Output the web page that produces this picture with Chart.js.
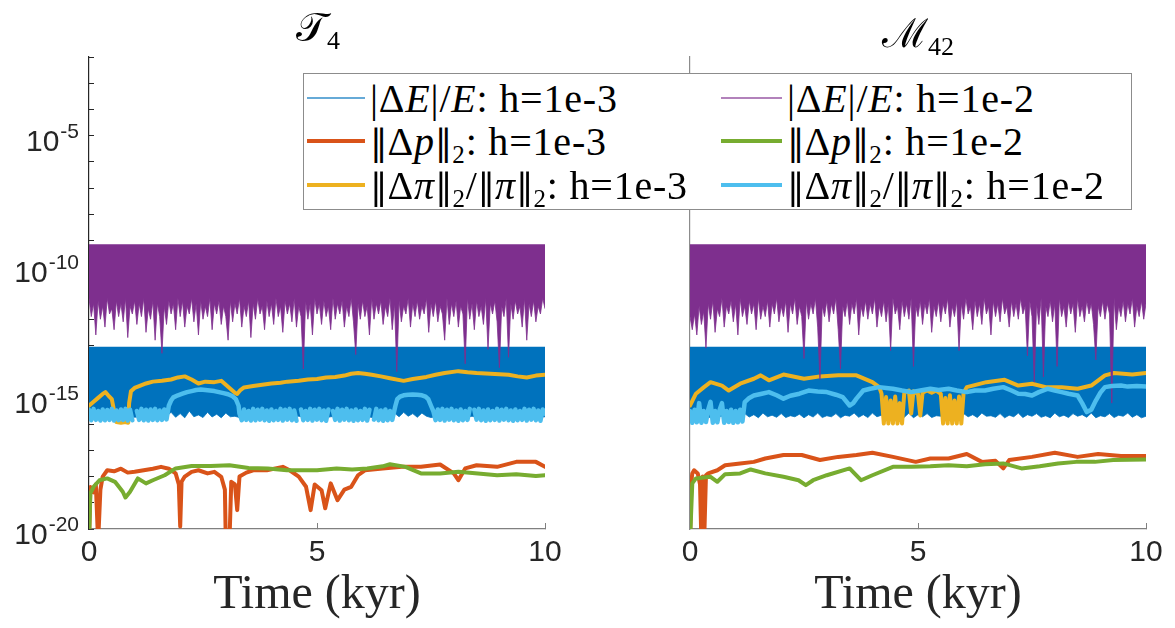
<!DOCTYPE html>
<html>
<head>
<meta charset="utf-8">
<script src="https://cdn.jsdelivr.net/npm/chart.js@4.4.0/dist/chart.umd.min.js"></script>
<style>
  body { margin: 0; width: 1175px; height: 628px; background: #fff; position: relative; overflow: hidden; font-family: "Liberation Serif", "DejaVu Serif", serif; color: #000; }
  canvas { position: absolute; top: 0; }
  #cLeft { left: 0; }
  #cRight { left: 600px; }
  .title { position: absolute; top: 4px; width: 456px; text-align: center; font-size: 40px; font-family: "DejaVu Serif", "Liberation Serif", serif; }
  .title sub { font-size: 26px; font-family: "Liberation Serif", serif; vertical-align: -8px; }
  #legend { position: absolute; left: 303px; top: 73px; width: 829px; height: 137px; border: 1px solid #8c8c8c; background: #fff; box-sizing: border-box; }
  .item { position: absolute; height: 40px; display: flex; align-items: center; white-space: nowrap; font-size: 40px; letter-spacing: 0.8px; }
  .item .sample { display: inline-block; margin-right: 5px; }
  .item sub { font-size: 25px; vertical-align: -8px; line-height: 0; }
  .dbl { font-family: "DejaVu Serif", serif; font-size: 35px; letter-spacing: 0; }
</style>
</head>
<body>
<canvas id="cLeft" width="600" height="628"></canvas>
<canvas id="cRight" width="575" height="628"></canvas>
<div class="title" style="left:90px">𝒯<sub>4</sub></div>
<div class="title" style="left:690px">ℳ<sub>42</sub></div>
<div id="legend"></div>
<script>
// axis values
const xTicks = [0, 5, 10];
const yLabelExps = [-20, -15, -10, -5];
const yMinExp = -20, yMaxExp = -2;
const xLabel = 'Time (kyr)';

// series colours (MATLAB default order)
const cBlue = '#0072BD', cOrange = '#D95319', cYellow = '#EDB120',
      cPurple = '#7E2F8E', cGreen = '#77AC30', cCyan = '#4DBEEE';

// legend labels (html, real text)
const legendLabels = [
  '|Δ<i>E</i>|/<i>E</i>: h=1e-3', '|Δ<i>E</i>|/<i>E</i>: h=1e-2',
  '<span class="dbl">‖</span>Δ<i>p</i><span class="dbl">‖</span><sub>2</sub>: h=1e-3', '<span class="dbl">‖</span>Δ<i>p</i><span class="dbl">‖</span><sub>2</sub>: h=1e-2',
  '<span class="dbl">‖</span>Δ<i>π</i><span class="dbl">‖</span><sub>2</sub>/<span class="dbl">‖</span><i>π</i><span class="dbl">‖</span><sub>2</sub>: h=1e-3',
  '<span class="dbl">‖</span>Δ<i>π</i><span class="dbl">‖</span><sub>2</sub>/<span class="dbl">‖</span><i>π</i><span class="dbl">‖</span><sub>2</sub>: h=1e-2'
];

// ---- T4 panel (log10 values) ----
// |dE|/E bands: flat top, lower edge every 0.05 kyr (h=1e-2) / 0.1 kyr (h=1e-3)
const eTopT4_h2 = -9.14;
const eLowT4_h2 = [
  -11.2,-11.9,-11.4,-12.6,-11.3,-12.0,-11.5,-12.3,-11.2,-11.8,-11.6,-12.4,-11.3,-11.9,-11.4,-12.1,-11.2,-12.7,-11.5,-11.8,
  -11.3,-12.2,-11.4,-11.9,-11.2,-12.5,-11.6,-12.0,-11.3,-12.8,-11.4,-11.9,-13.3,-11.5,-12.2,-11.3,-11.8,-11.4,-12.4,-11.2,
  -11.9,-11.3,-12.3,-11.5,-11.8,-11.2,-12.1,-11.4,-12.6,-11.3,-12.0,-11.5,-11.9,-11.2,-12.4,-11.4,-11.8,-11.3,-12.2,-11.5,
  -11.9,-12.8,-11.3,-12.1,-11.4,-11.8,-11.2,-12.3,-11.5,-11.9,-11.3,-12.7,-11.4,-12.0,-11.2,-11.8,-11.5,-12.4,-11.3,-11.9,
  -11.4,-12.2,-11.2,-11.9,-11.5,-12.5,-11.3,-11.8,-11.4,-12.1,-11.2,-12.3,-11.5,-11.9,-13.9,-11.3,-12.0,-11.4,-12.6,-11.2,
  -11.8,-11.4,-12.2,-11.3,-11.9,-11.5,-12.4,-11.2,-12.0,-11.4,-11.8,-11.3,-12.3,-11.5,-11.9,-11.2,-12.1,-13.35,-11.4,-12.0,
  -11.3,-11.9,-11.5,-12.6,-11.2,-12.0,-11.4,-11.8,-11.3,-12.2,-11.5,-11.9,-11.2,-12.4,-11.4,-14.0,-11.3,-12.1,-11.5,-11.8,
  -11.2,-12.3,-11.4,-11.9,-11.3,-12.0,-11.5,-11.8,-11.2,-12.5,-11.4,-11.9,-11.3,-12.1,-11.5,-11.8,-12.8,-11.2,-12.2,-11.4,
  -11.9,-11.3,-12.3,-11.5,-11.8,-13.7,-11.2,-12.0,-11.4,-12.4,-11.3,-11.9,-11.5,-12.2,-11.2,-13.15,-11.4,-11.8,-11.3,-12.1,
  -13.85,-11.5,-11.9,-11.2,-13.45,-11.4,-12.0,-11.3,-11.8,-11.5,-12.3,-11.2,-12.8,-11.4,-11.9,-11.3,-12.1,-11.5,-11.8,-11.2,
  -11.6
];
const eTopT4_h3 = -13.05;
const eLowT4_h3 = [
  -15.72,-15.75,-15.7,-15.74,-15.72,-15.76,-15.7,-15.73,-15.75,-15.7,
  -15.74,-15.72,-15.76,-15.7,-15.73,-15.75,-15.72,-15.7,-15.55,-15.74,
  -15.6,-15.76,-15.5,-15.72,-15.65,-15.75,-15.55,-15.73,-15.62,-15.76,
  -15.58,-15.72,-15.7,-15.75,-15.72,-15.7,-15.74,-15.76,-15.72,-15.7,
  -15.75,-15.72,-15.7,-15.74,-15.76,-15.72,-15.7,-15.73,-15.75,-15.72,
  -15.7,-15.74,-15.76,-15.72,-15.7,-15.75,-15.73,-15.7,-15.74,-15.76,
  -15.72,-15.7,-15.75,-15.73,-15.7,-15.74,-15.76,-15.58,-15.72,-15.55,
  -15.7,-15.6,-15.74,-15.58,-15.7,-15.75,-15.72,-15.7,-15.74,-15.76,
  -15.72,-15.7,-15.75,-15.73,-15.7,-15.74,-15.76,-15.72,-15.7,-15.75,
  -15.73,-15.7,-15.74,-15.76,-15.72,-15.7,-15.75,-15.73,-15.7,-15.74,
  -15.72
];
// ||dp||2 (t, log10)
const pT4_h3 = [[0,-20.5],[0.03,-18.4],[0.1,-18.6],[0.15,-18.3],[0.2,-20.5],[0.25,-18.5],[0.3,-18.0],[0.4,-17.76],[0.55,-17.8],[0.7,-17.7],[0.85,-17.85],[1.0,-17.82],[1.2,-17.76],[1.4,-17.7],[1.58,-17.63],[1.75,-17.7],[1.9,-17.88],[1.97,-18.3],[2.0,-19.9],[2.03,-18.2],[2.1,-18.0],[2.25,-17.82],[2.4,-17.76],[2.6,-17.88],[2.75,-17.82],[2.9,-18.01],[2.98,-18.5],[3.0,-20.5],[3.08,-20.5],[3.12,-18.2],[3.2,-18.3],[3.25,-19.28],[3.3,-18.0],[3.45,-17.85],[3.6,-17.76],[3.9,-17.76],[4.25,-17.63],[4.4,-17.76],[4.6,-18.0],[4.76,-18.39],[4.86,-19.28],[4.95,-18.3],[5.1,-18.52],[5.18,-19.21],[5.3,-18.26],[5.45,-18.9],[5.6,-18.5],[5.75,-18.39],[5.9,-17.95],[6.05,-17.76],[6.44,-17.69],[6.86,-17.63],[7.28,-17.63],[7.7,-17.54],[8.0,-17.88],[8.1,-18.14],[8.25,-17.69],[8.5,-17.57],[8.95,-17.63],[9.37,-17.44],[9.8,-17.44],[10,-17.63]];
const pT4_h2 = [[0,-20.5],[0.03,-18.64],[0.1,-18.39],[0.23,-18.14],[0.4,-18.07],[0.57,-18.2],[0.74,-18.58],[0.8,-18.8],[0.9,-18.58],[1.07,-18.07],[1.25,-18.26],[1.4,-18.14],[1.66,-17.95],[1.9,-17.69],[2.25,-17.6],[2.67,-17.6],[3.08,-17.57],[3.5,-17.67],[3.92,-17.69],[4.34,-17.76],[4.76,-17.76],[5.0,-17.76],[5.43,-17.69],[5.77,-17.73],[6.1,-17.69],[6.44,-17.61],[6.6,-17.53],[6.94,-17.63],[7.28,-17.88],[7.7,-17.88],[8.1,-17.82],[8.53,-17.88],[8.95,-17.95],[9.37,-17.91],[9.8,-17.98],[10,-17.95]];
// ||dpi||2/||pi||2 (t, log10)
const piT4_h3 = [[0,-15.3],[0.1,-15.15],[0.2,-15.0],[0.3,-14.85],[0.36,-14.78],[0.42,-14.9],[0.5,-15.05],[0.55,-15.5],[0.6,-15.92],[0.7,-15.95],[0.8,-15.92],[0.86,-15.95],[0.88,-15.2],[0.92,-14.75],[1.0,-14.62],[1.1,-14.55],[1.25,-14.45],[1.4,-14.38],[1.6,-14.35],[1.8,-14.3],[1.95,-14.22],[2.1,-14.18],[2.25,-14.3],[2.4,-14.45],[2.55,-14.38],[2.75,-14.4],[2.9,-14.35],[3.0,-14.5],[3.1,-14.65],[3.2,-14.8],[3.25,-14.85],[3.32,-14.7],[3.4,-14.6],[3.6,-14.55],[3.8,-14.5],[4.0,-14.45],[4.2,-14.42],[4.35,-14.38],[4.6,-14.35],[4.8,-14.3],[5.0,-14.28],[5.2,-14.22],[5.4,-14.2],[5.6,-14.15],[5.75,-14.08],[5.9,-14.05],[6.05,-14.08],[6.2,-14.12],[6.4,-14.18],[6.6,-14.25],[6.9,-14.35],[7.1,-14.28],[7.4,-14.2],[7.6,-14.12],[7.8,-14.05],[8.1,-13.98],[8.3,-14.02],[8.5,-14.05],[8.8,-14.08],[9.0,-14.1],[9.2,-14.12],[9.4,-14.18],[9.6,-14.22],[9.8,-14.15],[10,-14.12]];
const piT4_h2 = [
  [0,-15.45],[0.05,-15.85],[0.1,-15.42],[0.15,-15.84],[0.2,-15.5],[0.25,-15.86],[0.3,-15.44],[0.35,-15.85],[0.4,-15.46],[0.45,-15.84],[0.5,-15.42],[0.55,-15.86],[0.6,-15.48],[0.65,-15.85],[0.7,-15.44],[0.75,-15.84],[0.8,-15.42],[0.85,-15.86],[0.9,-15.45],[0.95,-15.85],[1.0,null],[1.05,-15.5],[1.1,-15.84],[1.15,-15.42],[1.2,-15.85],[1.25,-15.45],[1.3,-15.86],[1.35,-15.44],[1.4,-15.84],[1.45,-15.42],[1.5,-15.85],[1.55,-15.48],[1.6,-15.84],[1.65,-15.44],[1.7,-15.82],
  [1.75,-15.3],[1.8,-15.1],[1.85,-14.98],[1.95,-14.9],[2.05,-14.84],[2.15,-14.78],[2.25,-14.74],[2.35,-14.7],[2.45,-14.68],[2.55,-14.7],[2.65,-14.72],[2.75,-14.74],[2.85,-14.78],[2.95,-14.82],[3.05,-14.86],[3.15,-14.94],[3.22,-15.05],[3.28,-15.3],
  [3.3,-15.6],[3.35,-15.85],[3.4,-15.44],[3.45,-15.84],[3.5,-15.5],[3.55,-15.86],[3.6,-15.42],[3.65,-15.85],[3.7,-15.45],[3.75,-15.83],[3.8,-15.42],[3.85,-15.85],[3.9,-15.48],[3.95,-15.87],[4.0,-15.44],[4.05,-15.85],[4.1,-15.5],[4.15,-15.84],[4.2,-15.42],[4.25,-15.86],[4.3,-15.45],[4.35,-15.83],[4.4,-15.42],[4.45,-15.85],[4.5,-15.48],[4.55,-15.87],[4.6,null],[4.65,-15.44],[4.7,-15.85],[4.75,-15.5],[4.8,-15.84],[4.85,-15.42],[4.9,-15.86],[4.95,-15.45],[5.0,-15.83],[5.05,-15.42],[5.1,-15.85],[5.15,-15.48],[5.2,-15.87],[5.25,-15.44],[5.3,null],[5.35,-15.5],[5.4,-15.84],[5.45,-15.42],[5.5,-15.86],[5.55,-15.45],[5.6,-15.83],[5.65,-15.42],[5.7,-15.85],[5.75,-15.48],[5.8,-15.87],[5.85,-15.44],[5.9,-15.85],[5.95,-15.5],[6.0,-15.84],[6.05,-15.42],[6.1,-15.86],[6.15,-15.45],[6.2,null],[6.25,-15.83],[6.3,-15.42],[6.35,-15.85],[6.4,-15.48],[6.45,-15.87],[6.5,-15.44],[6.55,-15.85],[6.6,-15.5],[6.65,-15.84],[6.7,-15.45],
  [6.72,-15.3],[6.76,-15.05],[6.82,-14.95],[6.9,-14.9],[7.0,-14.88],[7.1,-14.87],[7.2,-14.88],[7.3,-14.9],[7.38,-14.95],[7.44,-15.05],[7.5,-15.3],
  [7.55,-15.5],[7.6,-15.85],[7.65,-15.44],[7.7,-15.84],[7.75,-15.42],[7.8,-15.86],[7.85,-15.45],[7.9,-15.83],[7.95,-15.42],[8.0,-15.85],[8.05,-15.48],[8.1,-15.87],[8.15,-15.44],[8.2,-15.85],[8.25,-15.5],[8.3,-15.84],[8.35,-15.42],[8.4,null],[8.45,-15.45],[8.5,-15.83],[8.55,-15.42],[8.6,-15.85],[8.65,-15.48],[8.7,-15.87],[8.75,-15.44],[8.8,-15.85],[8.85,-15.5],[8.9,-15.84],[8.95,-15.42],[9.0,-15.86],[9.05,-15.45],[9.1,-15.83],[9.15,-15.42],[9.2,-15.85],[9.25,-15.48],[9.3,-15.87],[9.35,-15.44],[9.4,-15.85],[9.45,-15.5],[9.5,-15.84],[9.55,-15.42],[9.6,-15.86],[9.65,-15.45],[9.7,-15.83],[9.75,-15.42],[9.8,-15.85],[9.85,-15.48],[9.9,-15.87],[9.95,-15.44],[10,-15.6]
];

// ---- M42 panel (log10 values) ----
const eTopM42_h2 = -9.14;
const eLowM42_h2 = [
  -11.9,-12.4,-11.8,-12.6,-11.5,-12.2,-11.7,-13.1,-11.4,-12.0,-11.3,-12.5,-11.6,-11.9,-11.2,-12.3,-11.5,-11.8,-11.3,-12.1,
  -11.4,-12.6,-11.2,-11.9,-11.5,-12.2,-11.3,-11.8,-11.4,-12.4,-11.2,-12.0,-11.5,-11.9,-11.3,-12.3,-11.4,-11.8,-11.2,-12.1,
  -11.5,-11.9,-11.3,-12.5,-11.4,-11.8,-11.2,-12.2,-11.5,-11.9,-13.5,-11.3,-12.0,-11.4,-11.8,-11.2,-12.3,-14.3,-11.5,-11.9,
  -11.3,-12.1,-11.4,-11.8,-11.2,-12.4,-13.9,-11.5,-11.9,-11.3,-12.2,-11.4,-11.8,-11.2,-12.6,-11.5,-11.9,-11.3,-12.0,-11.4,
  -11.8,-11.2,-12.3,-11.5,-11.9,-11.3,-12.1,-11.4,-13.2,-11.2,-11.8,-11.5,-12.4,-11.3,-11.9,-11.4,-12.0,-11.2,-13.8,-11.5,
  -11.9,-11.3,-12.2,-11.4,-11.8,-11.2,-12.5,-11.5,-11.9,-11.3,-12.1,-11.4,-11.8,-11.2,-12.3,-11.5,-11.9,-11.3,-13.2,-11.4,
  -12.0,-11.2,-11.8,-11.5,-12.4,-11.3,-11.9,-11.4,-12.2,-11.2,-11.8,-11.5,-12.6,-11.3,-11.9,-11.4,-12.1,-11.2,-11.8,-11.5,
  -12.3,-11.3,-11.9,-11.4,-12.0,-11.2,-11.8,-11.5,-13.4,-11.3,-11.9,-14.4,-11.4,-12.2,-11.2,-14.2,-11.5,-11.9,-11.3,-12.1,
  -11.4,-13.8,-11.2,-11.9,-11.5,-12.3,-11.3,-11.8,-11.4,-12.5,-11.2,-11.9,-11.5,-12.1,-11.3,-11.8,-11.4,-12.2,-13.55,-11.5,
  -11.9,-11.3,-12.0,-11.4,-11.8,-15.2,-11.2,-12.4,-11.5,-11.9,-11.3,-12.1,-11.4,-11.8,-11.2,-12.3,-11.5,-11.9,-11.3,-12.0,
  -11.4
];
const eTopM42_h3 = -13.05;
const eLowM42_h3 = [
  -15.75,-15.72,-15.76,-15.7,-15.74,-15.75,-15.72,-15.7,-15.76,-15.73,
  -15.74,-15.7,-15.6,-15.73,-15.64,-15.76,-15.58,-15.72,-15.66,-15.74,
  -15.6,-15.75,-15.68,-15.72,-15.62,-15.76,-15.64,-15.73,-15.58,-15.75,
  -15.68,-15.72,-15.6,-15.76,-15.66,-15.7,-15.58,-15.74,-15.64,-15.75,
  -15.58,-15.72,-15.66,-15.75,-15.6,-15.7,-15.68,-15.74,-15.58,-15.76,
  -15.64,-15.72,-15.6,-15.75,-15.68,-15.7,-15.58,-15.74,-15.66,-15.76,
  -15.6,-15.72,-15.64,-15.75,-15.58,-15.7,-15.68,-15.74,-15.6,-15.76,
  -15.66,-15.72,-15.58,-15.75,-15.64,-15.7,-15.6,-15.74,-15.68,-15.76,
  -15.58,-15.72,-15.66,-15.75,-15.6,-15.7,-15.64,-15.74,-15.58,-15.76,
  -15.68,-15.72,-15.6,-15.75,-15.66,-15.7,-15.58,-15.74,-15.64,-15.76,
  -15.7
];
const pM42_h3 = [[0,-20.5],[0.03,-18.2],[0.05,-17.88],[0.09,-17.76],[0.17,-17.88],[0.22,-18.3],[0.25,-20.5],[0.28,-18.0],[0.31,-20.5],[0.35,-17.95],[0.4,-17.88],[0.6,-17.76],[0.77,-17.57],[1.1,-17.5],[1.4,-17.44],[1.65,-17.31],[2.05,-17.18],[2.45,-17.18],[2.85,-17.37],[3.25,-17.25],[3.65,-17.18],[4.0,-17.09],[4.45,-17.25],[4.95,-17.44],[5.27,-17.31],[5.67,-17.31],[6.07,-17.14],[6.4,-17.44],[6.7,-17.4],[6.87,-17.69],[7.0,-17.37],[7.5,-17.25],[8.0,-17.09],[8.5,-17.25],[8.95,-17.14],[9.45,-17.22],[10,-17.22]];
const pM42_h2 = [[0,-20.5],[0.05,-18.26],[0.13,-18.07],[0.3,-18.04],[0.45,-18.01],[0.6,-18.2],[0.77,-17.91],[1.1,-17.88],[1.33,-17.73],[1.65,-17.88],[2.05,-18.01],[2.38,-18.14],[2.54,-18.33],[2.7,-18.14],[3.0,-17.95],[3.5,-17.69],[3.75,-18.14],[4.0,-17.95],[4.45,-17.63],[4.86,-17.63],[5.27,-17.61],[5.67,-17.57],[6.07,-17.61],[6.47,-17.53],[6.87,-17.5],[7.27,-17.69],[7.67,-17.61],[8.07,-17.5],[8.47,-17.44],[8.88,-17.44],[9.28,-17.37],[10,-17.35]];
const piM42_h3 = [[0,-15.29],[0.13,-14.84],[0.3,-14.6],[0.45,-14.4],[0.7,-14.53],[0.85,-14.72],[1.1,-14.46],[1.4,-14.27],[1.55,-14.14],[1.73,-14.33],[2.05,-14.11],[2.5,-14.27],[2.85,-14.18],[3.25,-14.14],[3.65,-14.14],[4.0,-14.4],[4.15,-14.59],[4.2,-14.84],[4.25,-15.98],[4.3,-14.97],[4.35,-15.98],[4.4,-15.1],[4.45,-15.98],[4.5,-14.95],[4.55,-15.98],[4.6,-15.2],[4.65,-15.98],[4.7,-14.8],[4.8,-14.72],[4.85,-15.6],[4.9,-14.75],[5.0,-14.85],[5.05,-15.67],[5.1,-14.8],[5.2,-14.72],[5.3,-14.8],[5.4,-14.72],[5.5,-14.85],[5.55,-15.98],[5.6,-15.0],[5.65,-15.98],[5.7,-14.9],[5.75,-15.98],[5.8,-15.1],[5.85,-15.98],[5.9,-14.95],[5.95,-15.98],[6.0,-14.8],[6.07,-14.59],[6.5,-14.4],[6.9,-14.31],[7.2,-14.53],[7.5,-14.46],[7.8,-14.59],[8.15,-14.59],[8.5,-14.65],[8.8,-14.53],[9.1,-14.14],[9.3,-14.05],[9.7,-14.11],[10,-14.05]];
const piM42_h2 = [
  [0,-15.5],[0.05,-15.95],[0.1,-15.45],[0.15,-15.93],[0.2,-15.2],[0.25,-15.95],[0.3,-15.5],[0.35,-15.92],[0.4,-15.45],[0.45,-15.15],[0.5,-15.95],[0.55,-15.5],[0.6,-15.93],[0.65,-15.45],[0.7,-15.2],[0.75,-15.95],[0.8,-15.5],[0.85,-15.92],[0.9,-15.45],[0.95,-15.95],[1.0,-15.5],[1.05,-15.93],[1.1,-15.45],[1.15,-15.9],
  [1.2,-15.16],[1.3,-15.0],[1.4,-14.91],[1.55,-14.85],[1.73,-14.78],[1.9,-14.9],[2.05,-15.03],[2.2,-14.92],[2.4,-14.84],[2.6,-14.72],[2.8,-14.76],[3.0,-14.78],[3.2,-14.88],[3.35,-14.97],[3.5,-15.29],[3.58,-15.2],[3.65,-15.03],[3.8,-14.72],[3.95,-14.65],[4.15,-14.59],[4.3,-14.62],[4.45,-14.65],[4.65,-14.72],[4.85,-14.78],[5.05,-14.72],[5.27,-14.65],[5.45,-14.7],[5.67,-14.65],[5.85,-14.72],[6.07,-14.78],[6.25,-14.72],[6.47,-14.72],[6.65,-14.65],[6.87,-14.59],[7.05,-14.72],[7.2,-14.84],[7.35,-14.85],[7.5,-14.91],[7.65,-14.78],[7.85,-14.65],[8.0,-14.72],[8.15,-14.78],[8.3,-14.84],[8.5,-14.91],[8.6,-15.2],[8.7,-15.54],[8.8,-15.45],[8.9,-15.1],[9.0,-14.8],[9.1,-14.59],[9.25,-14.55],[9.45,-14.53],[9.6,-14.57],[9.8,-14.55],[10,-14.57]
];

function bandPoints(lows, step) {
  return lows.map((v, i) => ({ x: i * step, y: Math.pow(10, v) }));
}
function linePoints(pairs) {
  return pairs.map(([t, v]) => ({ x: t, y: v === null ? null : Math.pow(10, v) }));
}
function band(lows, step, top, color) {
  return { data: bandPoints(lows, step), borderColor: color, backgroundColor: color, borderWidth: 0.8,
           fill: { value: Math.pow(10, top) }, pointRadius: 0, tension: 0 };
}
function line(pairs, color, width) {
  return { data: linePoints(pairs), borderColor: color, borderWidth: width || 4, fill: false, pointRadius: 0,
           tension: 0, spanGaps: false, borderJoinStyle: 'round', borderCapStyle: 'round' };
}

// y labels 10^n drawn with a raised exponent
const expLabels = {
  id: 'expLabels',
  afterDraw(chart) {
    const opts = chart.options.plugins.expLabels;
    if (!opts || !opts.show) return;
    const s = chart.scales.y, ctx = chart.ctx;
    ctx.save();
    ctx.fillStyle = '#262626';
    ctx.textAlign = 'right';
    ctx.textBaseline = 'alphabetic';
    yLabelExps.forEach(e => {
      const y = s.getPixelForValue(Math.pow(10, e));
      const right = s.right - 10;
      ctx.font = '21px "Liberation Sans", Arial, sans-serif';
      const ex = String(e);
      const w = ctx.measureText(ex).width;
      ctx.fillText(ex, right, y + 2);
      ctx.font = '30px "Liberation Sans", Arial, sans-serif';
      ctx.fillText('10', right - w - 1, y + 15);
    });
    ctx.restore();
  }
};

function makeChart(id, datasets, showY, padRight, yWidth) {
  new Chart(document.getElementById(id), {
    type: 'line',
    data: { datasets },
    options: {
      responsive: false,
      animation: false,
      devicePixelRatio: 1,
      layout: { padding: { top: 57, right: padRight, left: 0, bottom: 0 } },
      plugins: { legend: { display: false }, tooltip: { enabled: false }, expLabels: { show: showY } },
      scales: {
        x: {
          type: 'linear', min: 0, max: 10,
          afterBuildTicks: s => { s.ticks = xTicks.map(v => ({ value: v })); },
          afterFit: s => { s.height = 99; },
          grid: { drawOnChartArea: false, drawTicks: true, tickLength: -6, color: '#808080' },
          border: { color: '#808080', width: 1.2 },
          ticks: { color: '#262626', padding: 12, font: { family: '"Liberation Sans", Arial, sans-serif', size: 30 }, maxRotation: 0 },
          title: { display: true, text: xLabel, color: '#262626', padding: { top: 0, bottom: 4 },
                   font: { family: '"Liberation Serif", serif', size: 48, weight: 'normal' } }
        },
        y: {
          type: 'logarithmic', min: Math.pow(10, yMinExp), max: Math.pow(10, yMaxExp),
          afterBuildTicks: s => {
            const t = [];
            for (let e = yMinExp; e <= yMaxExp; e++) t.push({ value: Math.pow(10, e) });
            s.ticks = t;
          },
          afterFit: s => { s.width = yWidth; },
          grid: { drawOnChartArea: false, drawTicks: showY, tickLength: -5, color: '#262626' },
          border: { color: showY ? '#262626' : '#8c8c8c', width: 1.2 },
          ticks: { display: false }
        }
      }
    },
    plugins: [expLabels]
  });
}

// drawing order bottom -> top: E(1e-3), p(1e-3), pi(1e-3), E(1e-2), p(1e-2), pi(1e-2)
// Chart.js draws dataset 0 last, so list top-most first
makeChart('cLeft', [
  line(piT4_h2, cCyan, 4.5), line(pT4_h2, cGreen), band(eLowT4_h2, 0.05, eTopT4_h2, cPurple),
  line(piT4_h3, cYellow), line(pT4_h3, cOrange), band(eLowT4_h3, 0.1, eTopT4_h3, cBlue)
], true, 55, 89);
makeChart('cRight', [
  line(piM42_h2, cCyan, 4.5), line(pM42_h2, cGreen), band(eLowM42_h2, 0.05, eTopM42_h2, cPurple),
  line(piM42_h3, cYellow), line(pM42_h3, cOrange), band(eLowM42_h3, 0.1, eTopM42_h3, cBlue)
], false, 29, 90);

// HTML legend (spans both panels)
const legendColors = [cBlue, cPurple, cOrange, cGreen, cYellow, cCyan];
const legendThin = [true, true, false, false, false, false];
const leg = document.getElementById('legend');
const rowTop = [4, 47, 91];
legendLabels.forEach((html, i) => {
  const col = i % 2, row = Math.floor(i / 2);
  const it = document.createElement('div');
  it.className = 'item';
  it.style.left = (col ? 417 : 3) + 'px';
  it.style.top = rowTop[row] + 'px';
  const thin = legendThin[i];
  it.innerHTML = '<span class="sample" style="width:' + (col ? 61 : 58) + 'px;height:' + (thin ? 2 : 4) +
    'px;background:' + legendColors[i] + ';opacity:' + (thin ? 0.6 : 1) + '"></span><span>' + html + '</span>';
  leg.appendChild(it);
});
</script>
</body>
</html>
